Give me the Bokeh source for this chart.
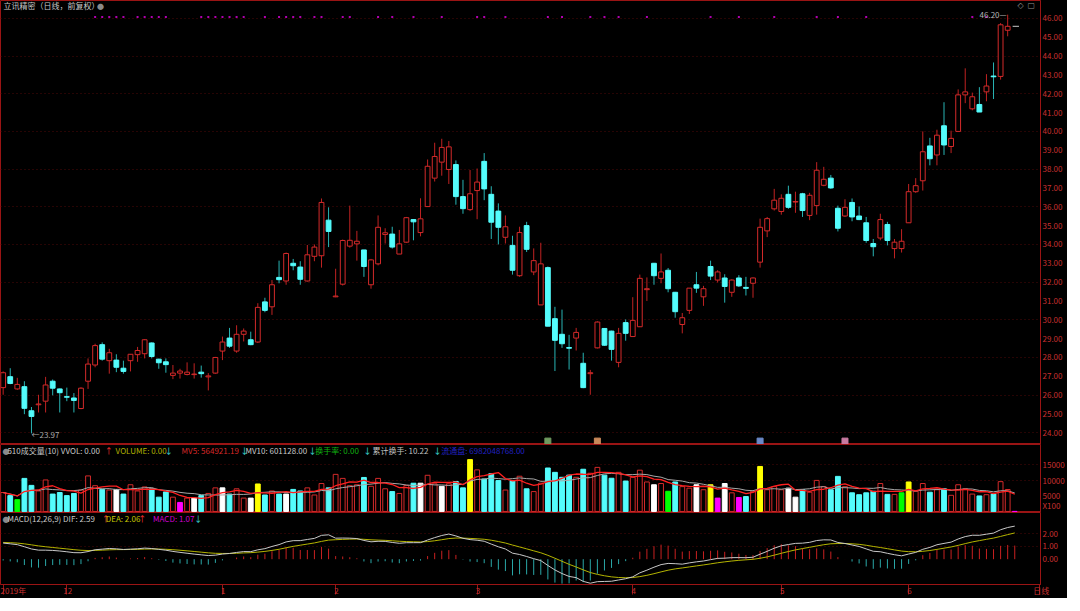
import numpy as np
import pandas as pd
from bokeh.plotting import figure
from bokeh.layouts import column
from bokeh.models import Range1d, FixedTicker, PrintfTickFormatter, Label, ColumnDataSource
from bokeh.embed import file_html
from bokeh.resources import INLINE

# ---------------- data ----------------
OPEN = [26.40, 26.98, 26.33, 26.45, 25.17, 25.49, 25.68, 26.74, 26.33, 25.92,
        25.85, 25.29, 26.74, 27.60, 28.68, 27.83, 27.86, 27.43, 27.83, 28.15,
        28.20, 28.77, 27.91, 27.77, 27.05, 27.17, 27.10, 27.09, 27.22, 26.97,
        27.17, 28.34, 29.03, 28.34, 29.23, 28.94, 28.82, 30.95, 30.69, 32.25,
        32.06, 33.00, 32.80, 32.06, 33.37, 33.40, 35.29, 31.22, 31.89, 33.91,
        34.03, 33.71, 31.86, 32.97, 34.53, 34.55, 33.49, 34.12, 35.32, 34.63,
        36.01, 37.52, 38.37, 37.98, 38.24, 36.54, 35.85, 36.86, 38.41, 36.66,
        35.77, 34.38, 33.95, 32.34, 35.00, 32.54, 30.79, 32.77, 30.06, 29.23,
        28.53, 29.03, 27.69, 27.14, 28.51, 29.54, 29.40, 27.74, 29.85, 29.11,
        29.63, 31.60, 33.00, 32.20, 32.63, 31.46, 29.75, 30.50, 31.86, 31.22,
        32.83, 32.11, 32.22, 31.46, 32.22, 31.72, 31.94, 33.06, 34.72, 35.89,
        35.75, 36.66, 36.25, 36.69, 35.54, 36.06, 37.14, 37.52, 35.92, 35.51,
        36.23, 35.51, 35.15, 34.05, 34.34, 35.06, 33.78, 33.78, 35.15, 36.80,
        37.38, 39.23, 38.75, 40.30, 39.20, 40.00, 41.94, 41.20, 41.43, 42.10,
        42.94, 42.92, 45.37]
HIGH = [27.26, 27.43, 26.92, 26.74, 25.37, 26.02, 26.97, 26.83, 26.35, 26.40,
        26.11, 26.42, 27.95, 28.73, 28.80, 28.46, 28.17, 27.83, 28.17, 28.56,
        28.97, 28.80, 27.93, 27.95, 27.60, 27.40, 27.74, 27.69, 27.57, 27.17,
        28.03, 29.11, 29.57, 29.71, 29.54, 29.37, 30.88, 31.17, 32.11, 33.14,
        33.57, 33.23, 33.11, 33.97, 34.00, 36.44, 35.97, 32.71, 34.26, 36.06,
        34.72, 33.71, 33.23, 35.54, 34.86, 34.94, 34.77, 35.46, 35.33, 36.45,
        38.51, 39.40, 39.61, 39.49, 38.46, 37.43, 37.95, 38.03, 38.85, 37.09,
        36.18, 35.54, 34.46, 34.94, 35.20, 33.79, 34.09, 32.83, 30.69, 30.54,
        29.20, 29.57, 28.25, 27.34, 29.92, 29.56, 29.42, 29.57, 30.02, 31.20,
        32.40, 32.25, 33.02, 33.52, 32.75, 31.48, 30.36, 31.68, 32.54, 31.80,
        33.14, 32.63, 32.42, 32.15, 32.37, 32.28, 32.25, 35.37, 35.46, 36.95,
        36.66, 37.12, 36.80, 36.74, 36.74, 38.37, 38.12, 37.69, 36.06, 36.40,
        36.44, 36.02, 35.46, 34.29, 35.63, 35.20, 34.29, 34.81, 37.21, 37.52,
        40.00, 39.66, 40.09, 41.55, 40.04, 42.23, 43.35, 42.06, 42.35, 43.04,
        43.66, 45.75, 46.20]
LOW = [26.02, 26.58, 26.28, 24.99, 23.97, 25.08, 25.08, 25.99, 25.08, 25.68,
       25.08, 25.25, 26.33, 27.48, 27.83, 27.14, 27.22, 27.14, 27.26, 27.77,
       27.95, 27.95, 27.40, 27.19, 26.85, 26.88, 27.05, 26.88, 26.93, 26.25,
       27.14, 27.86, 28.51, 28.25, 28.85, 28.65, 28.77, 30.40, 30.26, 31.94,
       31.86, 32.63, 31.86, 32.03, 33.11, 32.77, 33.86, 31.20, 31.82, 33.83,
       33.14, 32.28, 31.65, 32.89, 34.05, 33.78, 33.49, 34.09, 34.22, 34.43,
       36.01, 37.34, 37.65, 37.21, 36.11, 35.63, 35.77, 35.34, 36.35, 34.29,
       34.00, 34.05, 32.40, 32.28, 33.60, 32.37, 30.79, 29.66, 27.28, 28.51,
       27.36, 28.37, 26.37, 26.02, 28.48, 28.62, 27.83, 27.48, 28.89, 29.11,
       29.63, 31.00, 31.86, 31.94, 31.46, 30.11, 29.28, 30.31, 31.43, 30.74,
       32.11, 31.98, 30.91, 31.22, 31.74, 31.29, 31.17, 32.77, 34.39, 35.80,
       35.58, 35.89, 35.68, 35.46, 35.29, 35.58, 37.09, 36.95, 34.69, 35.46,
       35.23, 35.29, 34.09, 33.37, 34.22, 33.95, 33.26, 33.57, 35.15, 36.74,
       36.86, 38.20, 38.20, 38.75, 38.85, 40.00, 41.50, 41.12, 41.03, 41.60,
       41.72, 42.75, 45.05]
CLOSE = [27.19, 26.62, 26.57, 25.30, 24.87, 25.53, 26.54, 26.37, 26.13, 25.89,
         25.72, 26.37, 27.65, 28.63, 27.91, 28.25, 27.48, 27.26, 28.17, 28.37,
         28.94, 28.05, 27.72, 27.62, 27.17, 27.28, 27.22, 27.12, 27.14, 27.02,
         28.00, 28.82, 28.60, 29.23, 29.40, 28.68, 30.66, 30.50, 31.86, 32.13,
         33.52, 32.87, 32.15, 33.45, 33.86, 36.23, 34.69, 31.26, 34.21, 34.22,
         34.17, 32.83, 33.18, 34.91, 34.62, 33.86, 34.03, 35.42, 35.20, 35.36,
         38.15, 38.67, 39.15, 39.18, 36.54, 35.90, 36.69, 37.31, 36.95, 35.18,
         34.91, 34.94, 32.63, 34.63, 33.74, 33.14, 32.97, 29.66, 28.91, 28.73,
         28.49, 29.33, 26.40, 27.19, 29.88, 28.65, 28.43, 29.28, 29.28, 29.97,
         32.20, 31.65, 32.34, 32.54, 31.65, 30.43, 30.11, 31.68, 31.68, 31.65,
         32.32, 32.54, 31.77, 32.11, 31.80, 31.67, 32.22, 34.91, 35.37, 36.35,
         36.45, 35.97, 36.28, 35.80, 36.61, 37.94, 37.46, 37.00, 34.86, 35.97,
         35.46, 35.32, 34.21, 33.88, 35.32, 34.21, 34.12, 34.17, 36.80, 37.12,
         38.92, 38.55, 39.80, 39.28, 39.63, 41.94, 42.10, 41.84, 41.03, 42.41,
         42.90, 45.66, 45.58]
CURRENT_PRICE = 45.58          # today's (zero-volume) bar
LOW_MARK = 23.97
HIGH_MARK = 46.20

# volume, in units of 100 lots (axis "X100"); last entry = today (0)
VOLUME = [6100, 5100, 3800, 10650, 8400, 6600, 10150, 5600, 6100, 5100,
          5800, 6900, 11450, 8300, 7100, 6900, 7100, 5600, 8600, 6600,
          7900, 7300, 4600, 6300, 4600, 2900, 4300, 4300, 5100, 5800,
          7600, 7600, 5600, 7300, 4300, 4300, 8850, 5300, 6600, 5600,
          5600, 7100, 6600, 7600, 5300, 9000, 7600, 11950, 10650, 8300,
          8600, 10950, 8100, 10650, 7300, 6400, 5800, 8400, 9100, 9100,
          11650, 8900, 8100, 8900, 9650, 7600, 16700, 13400, 10450, 12200,
          9950, 6900, 9950, 11350, 7300, 6400, 9100, 14000, 12600, 11000,
          11700, 11000, 13600, 12300, 14200, 11700, 10700, 12600, 9800, 11000,
          13300, 9500, 8600, 9000, 6500, 9500, 8000, 7500, 8600, 7000,
          8600, 4300, 9000, 6000, 4500, 4800, 6500, 14500, 7000, 8000,
          7000, 7500, 4600, 7000, 6200, 10000, 8000, 7000, 11300, 8000,
          6000, 5400, 6000, 6500, 9000, 5500, 5500, 6000, 9500, 6500,
          9000, 6200, 7000, 7300, 5200, 8600, 7300, 5600, 5000, 5400,
          5600, 9600, 7070, 0]
# special volume-bar highlights: index -> kind
VOL_MARK = {2: "green", 16: "white", 25: "magenta", 27: "white", 31: "white",
            35: "white", 36: "yellow", 40: "white", 59: "white", 62: "white",
            66: "yellow", 92: "white", 94: "green", 98: "white", 100: "yellow",
            101: "magenta", 102: "white", 104: "magenta", 107: "yellow",
            111: "white", 112: "white", 127: "green", 128: "yellow", 143: "magenta"}

# MACD starting state read at the first bar (DIF 1.26, DEA 1.31)
EMA12_SEED = 26.19
EMA26_SEED = 24.93
DEA_SEED = 1.31

MONTH_TICKS = [0, 9, 31, 47, 67, 89, 110, 128]
MONTH_LABELS = ["2019年", "12", "1", "2", "3", "4", "5", "6"]
PERIOD_TAG = "日线"
PERIOD_TAG_POS = 146.5
EVENT_DOTS = [13, 14, 15, 16, 17, 19, 20, 21, 22, 23, 28, 29, 30, 31, 32, 33, 34,
              37, 39, 40, 41, 42, 44, 45, 48, 49, 53, 55, 58, 62, 67, 68, 71, 77,
              79, 83, 85, 87, 91, 100, 104, 109, 115, 118, 122, 137, 139]
EVENT_ICONS = [77, 84, 107, 119]

PRICE_TICKS = list(range(24, 47))
VOL_TICKS = [5000, 10000, 15000]
VOL_UNIT_POS = 1800            # where the "X100" unit tag sits on the volume axis
MACD_TICKS = [0, 1, 2]

# ---------------- style ----------------
FONT = "Noto Sans CJK SC"
BG = "black"
BORDER = "#9a1414"
GRID = "#4e0808"
RED = "#d42a2a"
RED_WICK = "#c02222"
CYAN = "#54fcfc"
CYAN_WICK = "#28b4b4"
AXIS_TXT = "#c83030"
SX = 1040 / 1057.0
FW = 1040
RB = 24
BW = 0.68

n = len(CLOSE)
idx = np.arange(n)
o = np.array(OPEN); h = np.array(HIGH); l = np.array(LOW); c = np.array(CLOSE)
up = c >= o

XR = Range1d(-0.376, 146.64)


def base_fig(fh, yr, xaxis=False):
    p = figure(frame_width=FW, frame_height=fh, x_range=XR, y_range=yr,
               output_backend="svg", toolbar_location=None,
               x_axis_location="below" if xaxis else None, y_axis_location="right",
               background_fill_color=BG, border_fill_color=BG,
               outline_line_color=BORDER, outline_line_width=1,
               min_border_left=0, min_border_right=RB, min_border_top=0, min_border_bottom=0)
    p.xgrid.visible = False
    p.ygrid.grid_line_color = GRID
    p.ygrid.grid_line_dash = "1 3"
    ax = p.yaxis[0]
    ax.axis_line_color = BORDER
    ax.major_tick_line_color = None
    ax.minor_tick_line_color = None
    ax.major_tick_out = 0
    ax.major_tick_in = 0
    ax.major_label_standoff = 2
    ax.major_label_text_color = AXIS_TXT
    ax.major_label_text_font = FONT
    ax.major_label_text_font_size = "8px"
    return p


def screen_label(p, x, y, text, color, size="8px", font=FONT, **kw):
    p.add_layout(Label(x=x, y=y, x_units="screen", y_units="screen", text=text,
                       text_color=color, text_font_size=size, text_font=font,
                       text_baseline="middle", **kw))


# ---------------- main price panel ----------------
MH = 444
p1 = base_fig(MH, Range1d(23.38, 46.95))
p1.yaxis[0].ticker = FixedTicker(ticks=PRICE_TICKS)
p1.yaxis[0].formatter = PrintfTickFormatter(format="%.2f")
p1.ygrid.ticker = FixedTicker(ticks=list(range(24, 47, 2)))

src_up = ColumnDataSource(dict(x=idx[up], o=o[up], h=h[up], l=l[up], c=c[up]))
src_dn = ColumnDataSource(dict(x=idx[~up], o=o[~up], h=h[~up], l=l[~up], c=c[~up]))
p1.segment(x0="x", y0="h", x1="x", y1="l", source=src_up, line_color=RED_WICK, line_width=1)
p1.segment(x0="x", y0="h", x1="x", y1="l", source=src_dn, line_color=CYAN_WICK, line_width=1)
p1.vbar(x="x", width=BW, top="c", bottom="o", source=src_up,
        fill_color=BG, line_color=RED, line_width=1)
p1.vbar(x="x", width=BW, top="o", bottom="c", source=src_dn,
        fill_color=CYAN, line_color=CYAN, line_width=1)
# today's flat bar
p1.segment(x0=[n - 0.3], y0=[CURRENT_PRICE], x1=[n + 0.6], y1=[CURRENT_PRICE],
           line_color="#c8c8c8", line_width=1)
# event dots along the top
p1.scatter(x=EVENT_DOTS, y=[46.07] * len(EVENT_DOTS), marker="square", size=2,
           fill_color="#b000b0", line_color=None)
# event icons
icon_cols = ["#6f9a5f", "#c8885a", "#6a88c8", "#c87aa0"]
p1.scatter(x=EVENT_ICONS, y=[23.56] * len(EVENT_ICONS), marker="square", size=6,
           fill_color=icon_cols, line_color=icon_cols)

lo_i = int(np.argmin(l)); hi_i = int(np.argmax(h))
p1.add_layout(Label(x=lo_i, y=LOW_MARK, text="←%.2f" % LOW_MARK, text_color="#a8a8a8",
                    text_font=FONT, text_font_size="8px", text_baseline="middle", x_offset=0, y_offset=-1))
p1.add_layout(Label(x=hi_i, y=HIGH_MARK, text="%.2f—" % HIGH_MARK, text_color="#b8b8b8",
                    text_font=FONT, text_font_size="8px", text_baseline="middle",
                    text_align="right", x_offset=-1))

screen_label(p1, 3 * SX, MH - 5, "立讯精密（日线，前复权）", "#c8c8c8")
screen_label(p1, 98 * SX, MH - 5, "●", "#8a8a8a", size="7px")
screen_label(p1, FW - 23, MH - 5, "◇", "#909090", size="8px", font="DejaVu Sans")
screen_label(p1, FW - 13, MH - 5, "▢", "#909090", size="8px", font="DejaVu Sans")

# ---------------- volume panel ----------------
VH = 68
p2 = base_fig(VH, Range1d(-340, 21574))
p2.yaxis[0].ticker = FixedTicker(ticks=VOL_TICKS + [VOL_UNIT_POS])
p2.yaxis[0].major_label_overrides = {VOL_UNIT_POS: "X100"}
p2.ygrid.ticker = FixedTicker(ticks=[10000, 15000])

vol = np.array(VOLUME, dtype=float)
nv = len(vol)
vidx = np.arange(nv)
vup = np.array([(CLOSE[i] >= OPEN[i]) if i < n else True for i in range(nv)])
mark_color = {"yellow": "#ffff00", "white": "#ffffff", "green": "#00ff00", "magenta": "#ff00ff"}
plain = np.array([i not in VOL_MARK for i in range(nv)])
m_up = plain & vup
m_dn = plain & ~vup
p2.vbar(x=vidx[m_up], top=vol[m_up], bottom=0, width=BW, fill_color=BG, line_color=RED)
p2.vbar(x=vidx[m_dn], top=vol[m_dn], bottom=0, width=BW, fill_color=CYAN, line_color=CYAN)
mk = sorted(VOL_MARK)
mcols = [mark_color[VOL_MARK[i]] for i in mk]
p2.vbar(x=mk, top=vol[mk], bottom=0, width=BW, fill_color=mcols, line_color=mcols)

vs = pd.Series(vol)
mv5 = vs.rolling(5, min_periods=1).mean().values
mv10 = vs.rolling(10, min_periods=1).mean().values
p2.line(vidx, mv10, line_color="#a8a8a8", line_width=1)
p2.line(vidx, mv5, line_color="#ff2020", line_width=1.3)

vy = VH - 6
screen_label(p2, 2 * SX, vy, "●", "#8a8a8a", size="7px")
vol_header = [(7, "510成交量(10) VVOL: 0.00", "#c8c8c8"), (106, "↑", "#ff3030"),
              (117, "VOLUME: 0.00", "#b0b000"), (167, "↓", "#40e0e0"),
              (184, "MV5: 564921.19", "#d82828"), (244, "↓", "#40e0e0"),
              (249, "MV10: 601128.00", "#c8c8c8"), (313, "↓", "#40e0e0"),
              (320, "换手率: 0.00", "#10b010"), (369, "↓", "#40e0e0"),
              (378, "累计换手: 10.22", "#c0c0c0"), (440, "↓", "#40e0e0"),
              (448, "流通盘: 6982048768.00", "#2020c0")]
for xr, t, col in vol_header:
    screen_label(p2, xr * SX, vy, t, col)

# ---------------- MACD panel ----------------
CH = 72
p3 = base_fig(CH, Range1d(-1.98, 3.65), xaxis=True)
p3.yaxis[0].ticker = FixedTicker(ticks=MACD_TICKS)
p3.yaxis[0].formatter = PrintfTickFormatter(format="%.2f")
p3.ygrid.ticker = FixedTicker(ticks=[1, 2])

call = np.array(CLOSE + [CURRENT_PRICE])
m = len(call)
ema12 = np.empty(m); ema26 = np.empty(m); dea = np.empty(m)
ema12[0] = EMA12_SEED; ema26[0] = EMA26_SEED
for t in range(1, m):
    ema12[t] = ema12[t - 1] + 2 / 13 * (call[t] - ema12[t - 1])
    ema26[t] = ema26[t - 1] + 2 / 27 * (call[t] - ema26[t - 1])
dif = ema12 - ema26
dea[0] = DEA_SEED
for t in range(1, m):
    dea[t] = dea[t - 1] + 2 / 10 * (dif[t] - dea[t - 1])
hist = 2 * (dif - dea)
midx = np.arange(m)
pos = hist >= 0
p3.segment(x0=midx[pos], y0=0, x1=midx[pos], y1=hist[pos], line_color="#c82020", line_width=1)
p3.segment(x0=midx[~pos], y0=0, x1=midx[~pos], y1=hist[~pos], line_color="#2aa8a8", line_width=1)
p3.line(midx, dea, line_color="#b4b400", line_width=1)
p3.line(midx, dif, line_color="#c8c8c8", line_width=1)

cy = CH - 6
screen_label(p3, 2 * SX, cy, "●", "#8a8a8a", size="7px")
macd_header = [(7, "MACD(12,26,9) DIF: 2.59", "#c8c8c8"), (103, "↑", "#ff3030"),
               (107, "DEA: 2.06", "#c8c800"), (140, "↑", "#ff3030"),
               (155, "MACD: 1.07", "#d000d0"), (197, "↓", "#40e0e0")]
for xr, t, col in macd_header:
    screen_label(p3, xr * SX, cy, t, col)

xa = p3.xaxis[0]
xa.ticker = FixedTicker(ticks=MONTH_TICKS + [PERIOD_TAG_POS])
overrides = {t: ("\u00a0" + s if t else s) for t, s in zip(MONTH_TICKS, MONTH_LABELS)}
overrides[PERIOD_TAG_POS] = "\u00a0\u00a0" + PERIOD_TAG
xa.major_label_overrides = overrides
xa.axis_line_color = BORDER
xa.major_tick_line_color = BORDER
xa.minor_tick_line_color = None
xa.major_tick_in = 0
xa.major_tick_out = 10
xa.major_label_standoff = -10
xa.major_label_text_align = "left"
xa.major_label_text_baseline = "top"
xa.major_label_text_color = AXIS_TXT
xa.major_label_text_font = FONT
xa.major_label_text_font_size = "8px"

layout = column(p1, p2, p3, spacing=0, styles={"background-color": "black"})
open("out.html", "w").write(file_html(layout, INLINE))
